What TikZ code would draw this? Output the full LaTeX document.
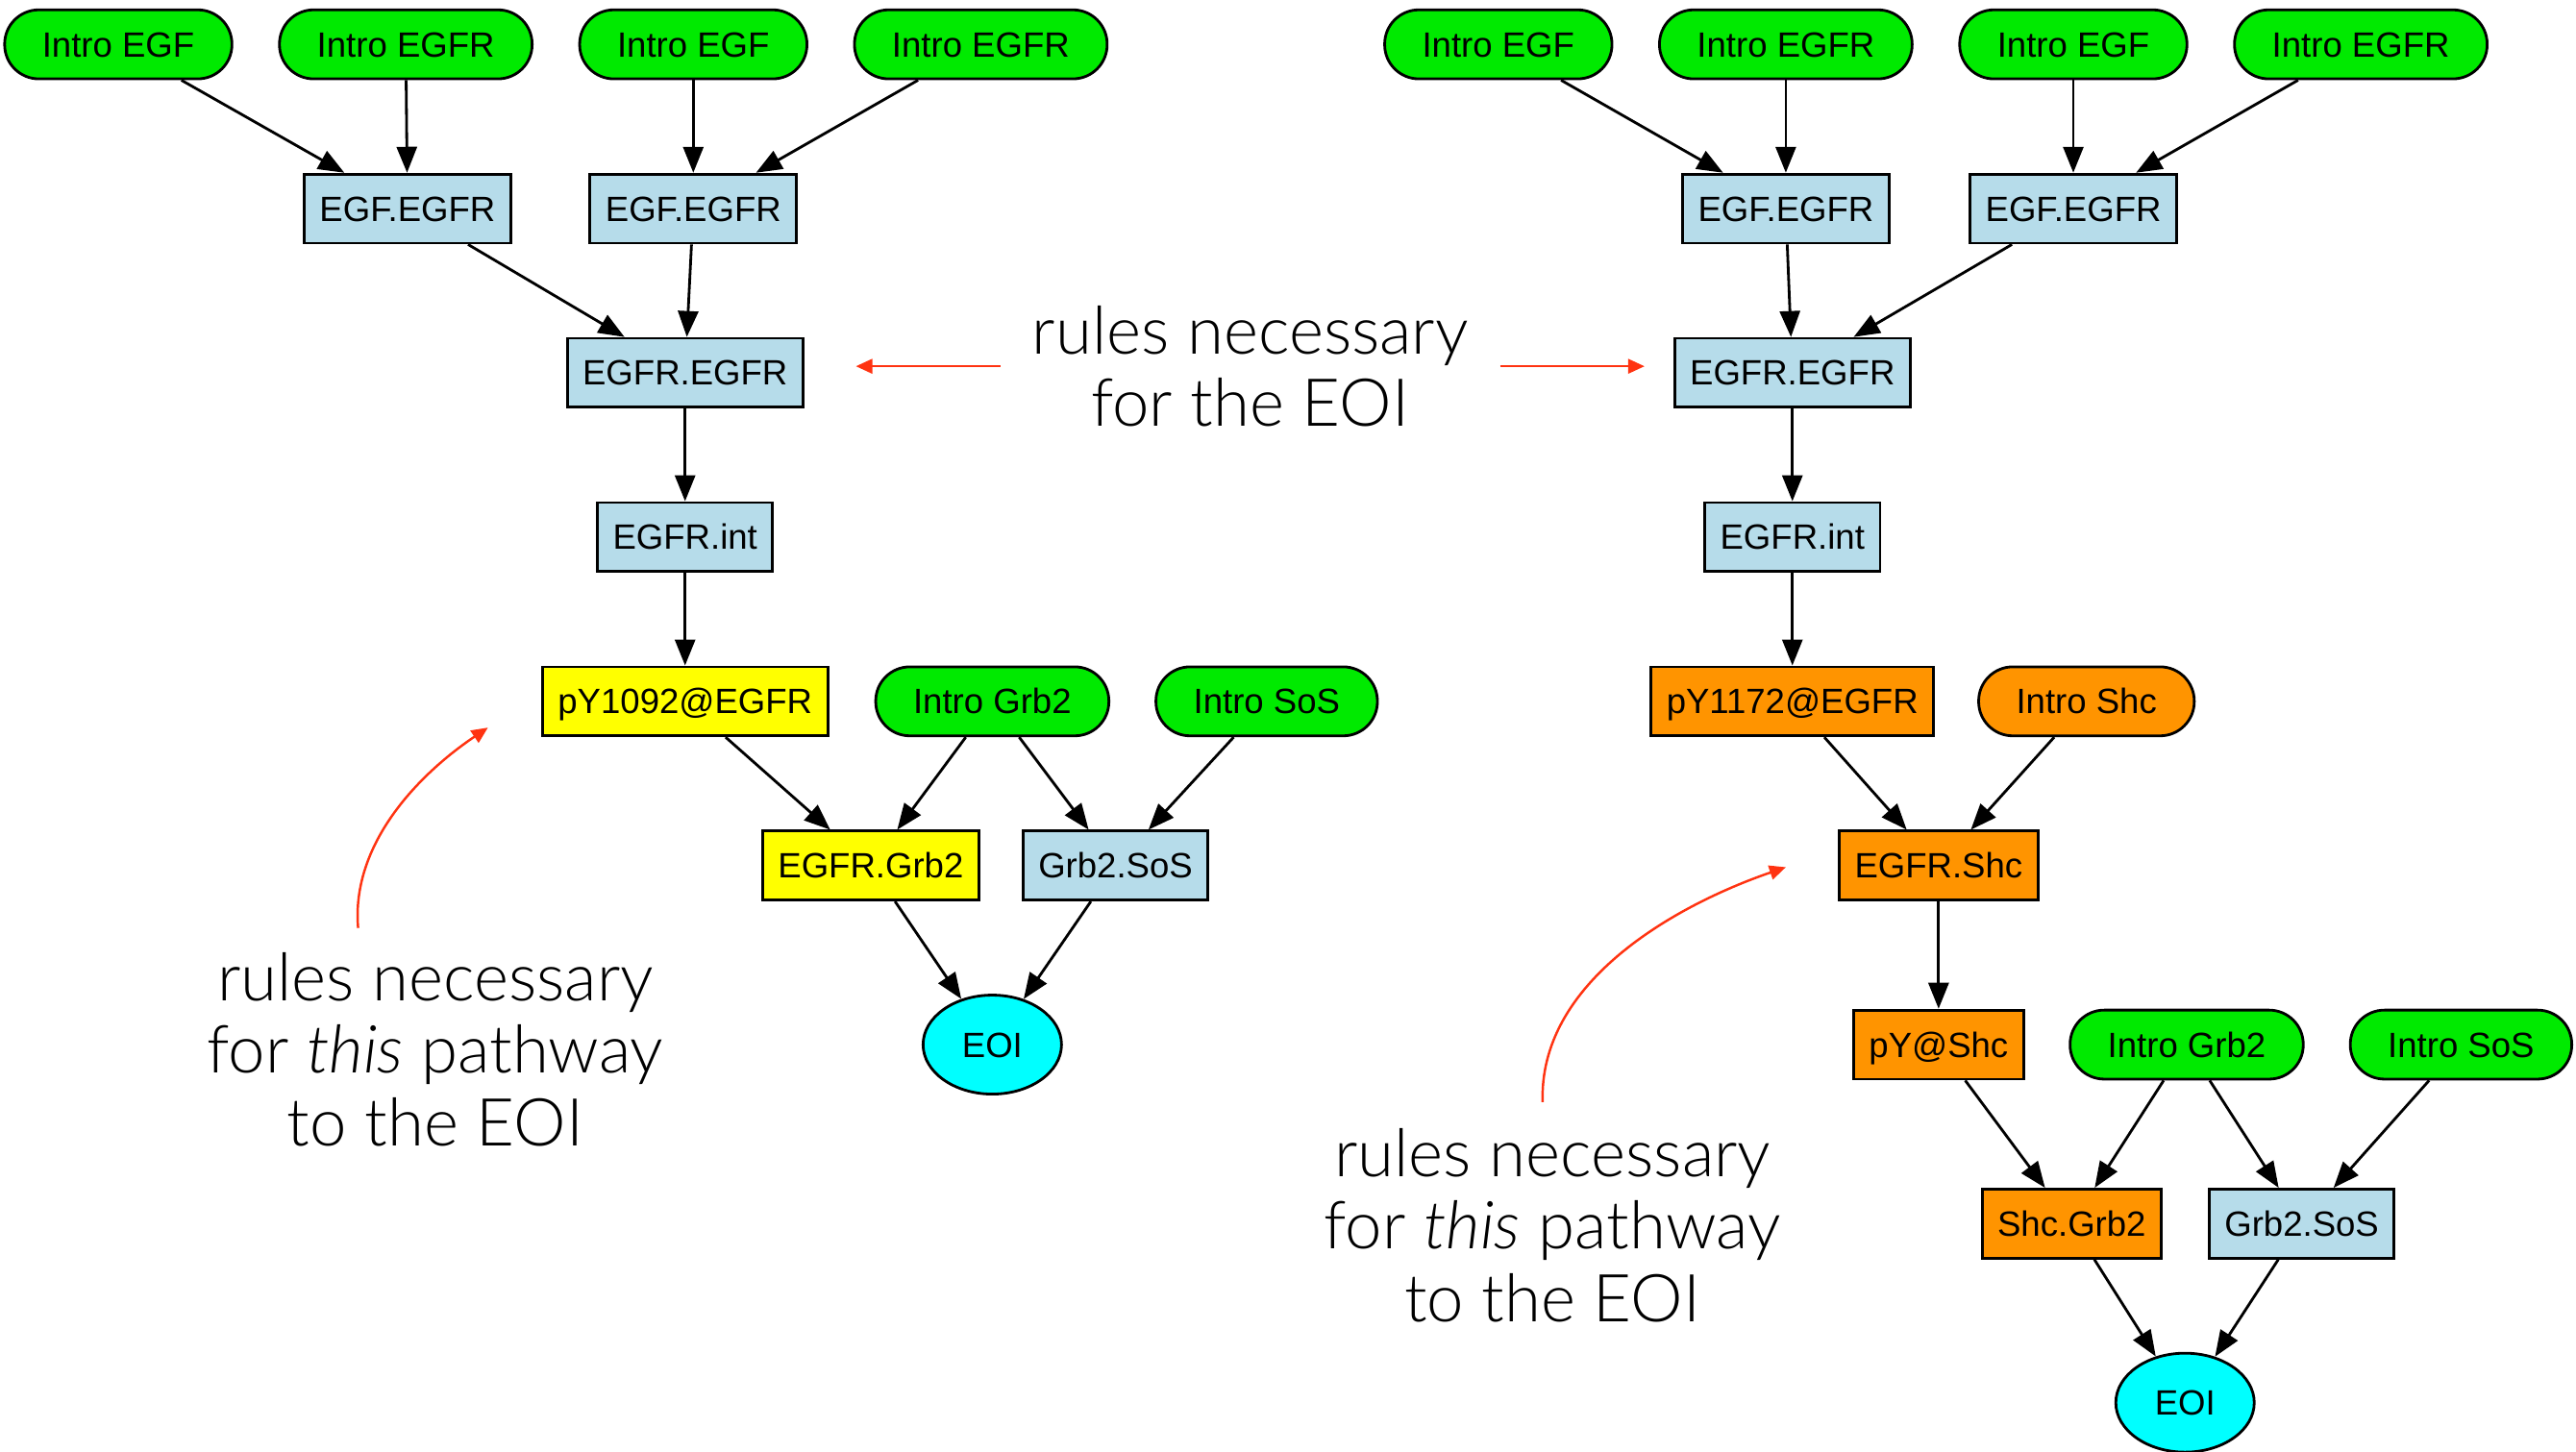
\documentclass[tikz,border=0pt]{standalone}
\usepackage{fontspec}
\setmainfont{Liberation Sans}
\newfontfamily\annfont{Lato Light}[ItalicFont={Lato Light Italic}]
\usetikzlibrary{arrows.meta,shapes.geometric}
\definecolor{introgreen}{RGB}{0,234,0}
\definecolor{complexblue}{RGB}{182,220,234}
\definecolor{pathyellow}{RGB}{255,255,0}
\definecolor{pathorange}{RGB}{255,148,0}
\definecolor{eoicyan}{RGB}{0,255,255}
\definecolor{noteRed}{RGB}{255,51,17}
\begin{document}
\begin{tikzpicture}[x=0.01709cm, y=-0.01709cm,
  every node/.style={font=\fontsize{10.4}{12}\selectfont, text=black},
  base/.style={draw=black, line width=0.8pt, minimum height=0.718cm, inner ysep=0pt,
               text height=7.4pt, text depth=0pt},
  intro/.style={base, fill=introgreen, rounded corners=0.355cm, inner xsep=0.39cm},
  cplx/.style={base, fill=complexblue, inner xsep=0.16cm},
  eoi/.style={draw=black, line width=0.8pt, fill=eoicyan, ellipse, inner sep=0pt,
              minimum width=1.44cm, minimum height=1.03cm, text height=7.4pt, text depth=0pt},
  edge/.style={draw=black, line width=0.8pt, -{Triangle[length=0.27cm,width=0.21cm]}},
  note/.style={font=\annfont\fontsize{19.6}{21.4}\selectfont, align=center, inner sep=0pt},
  notearrow/.style={draw=noteRed, line width=0.7pt, -{Triangle[length=0.17cm,width=0.15cm]}}
]
\useasboundingbox (0,0) rectangle (1568,884);

% ---------- left pathway (pY1092) ----------
\node[intro] (lEGF1)  at (72,27)  {Intro EGF};
\node[intro] (lEGFR1) at (247,27) {Intro EGFR};
\node[intro] (lEGF2)  at (422,27) {Intro EGF};
\node[intro] (lEGFR2) at (597,27) {Intro EGFR};
\node[cplx] (lDim1) at (248,127) {EGF.EGFR};
\node[cplx] (lDim2) at (422,127) {EGF.EGFR};
\node[cplx] (lRR)   at (417,227) {EGFR.EGFR};
\node[cplx] (lInt)  at (417,327) {EGFR.int};
\node[cplx, fill=pathyellow] (lPY) at (417,427) {pY1092@EGFR};
\node[intro] (lGrb) at (604,427) {Intro Grb2};
\node[intro] (lSoS) at (771,427) {Intro SoS};
\node[cplx, fill=pathyellow] (lEG) at (530,527) {EGFR.Grb2};
\node[cplx] (lGS) at (679,527) {Grb2.SoS};
\node[eoi] (lEOI) at (604,636) {EOI};

\foreach \a/\b in {lEGF1/lDim1, lEGFR1/lDim1, lEGF2/lDim2, lEGFR2/lDim2,
                   lDim1/lRR, lDim2/lRR, lRR/lInt, lInt/lPY,
                   lPY/lEG, lGrb/lEG, lGrb/lGS, lSoS/lGS, lEG/lEOI, lGS/lEOI}
  \draw[edge] (\a) -- (\b);

% ---------- right pathway (pY1172 via Shc) ----------
\node[intro] (rEGF1)  at (912,27)  {Intro EGF};
\node[intro] (rEGFR1) at (1087,27) {Intro EGFR};
\node[intro] (rEGF2)  at (1262,27) {Intro EGF};
\node[intro] (rEGFR2) at (1437,27) {Intro EGFR};
\node[cplx] (rDim1) at (1087,127) {EGF.EGFR};
\node[cplx] (rDim2) at (1262,127) {EGF.EGFR};
\node[cplx] (rRR)   at (1091,227) {EGFR.EGFR};
\node[cplx] (rInt)  at (1091,327) {EGFR.int};
\node[cplx, fill=pathorange] (rPY) at (1091,427) {pY1172@EGFR};
\node[intro, fill=pathorange] (rShc) at (1270,427) {Intro Shc};
\node[cplx, fill=pathorange] (rES)  at (1180,527) {EGFR.Shc};
\node[cplx, fill=pathorange] (rPYS) at (1180,636) {pY@Shc};
\node[intro] (rGrb) at (1331,636) {Intro Grb2};
\node[intro] (rSoS) at (1498,636) {Intro SoS};
\node[cplx, fill=pathorange] (rSG) at (1261,745) {Shc.Grb2};
\node[cplx] (rGS) at (1401,745) {Grb2.SoS};
\node[eoi] (rEOI) at (1330,854) {EOI};

\foreach \a/\b in {rEGF1/rDim1, rEGFR1/rDim1, rEGF2/rDim2, rEGFR2/rDim2,
                   rDim1/rRR, rDim2/rRR, rRR/rInt, rInt/rPY,
                   rPY/rES, rShc/rES, rES/rPYS, rPYS/rSG, rGrb/rSG,
                   rGrb/rGS, rSoS/rGS, rSG/rEOI, rGS/rEOI}
  \draw[edge] (\a) -- (\b);

% ---------- annotations ----------
\node[note] (noteEOI) at (761,223) {rules necessary\\for the EOI};
\coordinate (eoiL0) at (609,223);
\coordinate (eoiL1) at (521,223);
\coordinate (eoiR0) at (913,223);
\coordinate (eoiR1) at (1001,223);
\draw[notearrow] (eoiL0) -- (eoiL1);
\draw[notearrow] (eoiR0) -- (eoiR1);

\node[note] (noteLeft) at (265,639) {rules necessary\\for \textit{this} pathway\\to the EOI};
\coordinate (pathL0) at (218,565);
\coordinate (pathL1) at (297,443);
\draw[notearrow] (pathL0) to[out=95, in=214, looseness=0.9] (pathL1);

\node[note] (noteRight) at (945,746) {rules necessary\\for \textit{this} pathway\\to the EOI};
\coordinate (pathR0) at (939,671);
\coordinate (pathR1) at (1087,528);
\draw[notearrow] (pathR0) to[out=92, in=199, looseness=0.9] (pathR1);
\end{tikzpicture}
\end{document}
